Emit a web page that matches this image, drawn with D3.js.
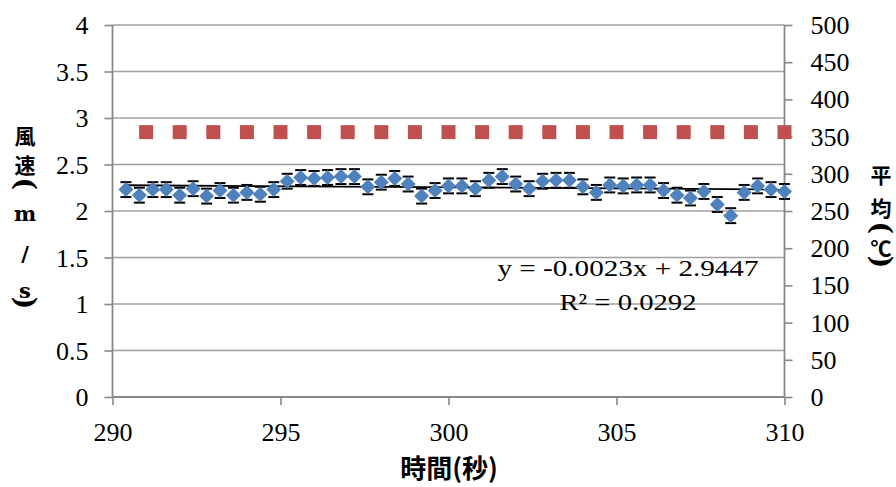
<!DOCTYPE html>
<html><head><meta charset="utf-8">
<script src="https://cdn.jsdelivr.net/npm/d3@7"></script>
<style>
html,body{margin:0;padding:0;background:#fff;}
svg{display:block;}
svg .tick text{font-family:'Liberation Serif','Times New Roman',serif !important;font-size:26px !important;}
</style></head>
<body>
<script>
// ---- data ----
const times = [290.4,290.8,291.2,291.6,292.0,292.4,292.8,293.2,293.6,294.0,294.4,294.8,295.2,295.6,296.0,296.4,296.8,297.2,297.6,298.0,298.4,298.8,299.2,299.6,300.0,300.4,300.8,301.2,301.6,302.0,302.4,302.8,303.2,303.6,304.0,304.4,304.8,305.2,305.6,306.0,306.4,306.8,307.2,307.6,308.0,308.4,308.8,309.2,309.6,310.0];
const windSpeed = [2.23,2.17,2.23,2.23,2.17,2.24,2.16,2.22,2.17,2.20,2.18,2.23,2.32,2.36,2.35,2.36,2.37,2.37,2.26,2.31,2.35,2.29,2.16,2.22,2.27,2.27,2.24,2.33,2.37,2.29,2.24,2.32,2.33,2.33,2.26,2.20,2.28,2.27,2.28,2.28,2.22,2.17,2.14,2.21,2.07,1.95,2.20,2.27,2.23,2.21];
const windErr = [0.08,0.08,0.08,0.08,0.08,0.08,0.08,0.08,0.08,0.08,0.08,0.08,0.08,0.08,0.08,0.08,0.08,0.08,0.08,0.08,0.08,0.08,0.08,0.08,0.08,0.08,0.08,0.08,0.08,0.08,0.08,0.08,0.08,0.08,0.08,0.08,0.08,0.08,0.08,0.08,0.08,0.08,0.08,0.08,0.08,0.08,0.08,0.08,0.08,0.08];
const tempTimes = [291,292,293,294,295,296,297,298,299,300,301,302,303,304,305,306,307,308,309,310];
const tempValues = [356,356,356,356,356,356,356,356,356,356,356,356,356,356,356,356,356,356,356,356];
const xTicks = [290,295,300,305,310];
const yLeftTicks = [0,0.5,1,1.5,2,2.5,3,3.5,4];
const yRightTicks = [0,50,100,150,200,250,300,350,400,450,500];
const trendSlope = -0.0023, trendIntercept = 2.9447;
const trendText = ["y = -0.0023x + 2.9447", "R² = 0.0292"];
const xTitle = "時間(秒)";
const yLeftTitle = ["風","速","(","m","/","s",")"];
const yRightTitle = ["平","均","(","℃",")"];

// ---- layout ----
const W = 896, H = 487;
const svg = d3.select("body").append("svg").attr("width", W).attr("height", H);
const x = d3.scaleLinear().domain([290,310]).range([112.5,784.5]);
const y = d3.scaleLinear().domain([0,4]).range([397,25]);
const y2 = d3.scaleLinear().domain([0,500]).range([397,25]);
const numFont = "'Liberation Serif', 'Times New Roman', serif";
const cjkFont = "'Noto Sans CJK JP', sans-serif";
const gridColor = "#a0a0a0", axisColor = "#888";

// gridlines
svg.append("g").selectAll("line").data(yLeftTicks.filter(d=>d>0)).join("line")
  .attr("x1", x(290)).attr("x2", x(310))
  .attr("y1", d=>y(d)).attr("y2", d=>y(d))
  .attr("stroke", gridColor).attr("stroke-width", 1.6);

// axes
function styleAxis(g){
  g.attr("font-family", numFont).attr("font-size", 26);
  g.select(".domain").remove();
  g.selectAll(".tick line").attr("stroke", axisColor).attr("stroke-width", 1.6);
  g.selectAll(".tick text").attr("fill", "#000");
}
const gL = svg.append("g").attr("transform", `translate(${x(290)},0)`)
  .call(d3.axisLeft(y).tickValues(yLeftTicks).tickSize(8).tickPadding(16).tickFormat(d=>String(d)));
styleAxis(gL); gL.selectAll(".tick text").attr("dy","0.33em");
const gR = svg.append("g").attr("transform", `translate(${x(310)},0)`)
  .call(d3.axisRight(y2).tickValues(yRightTicks).tickSize(8).tickPadding(18).tickFormat(d=>String(d)));
styleAxis(gR); gR.selectAll(".tick text").attr("dy","0.33em");
const gB = svg.append("g").attr("transform", `translate(0,${y(0)})`)
  .call(d3.axisBottom(x).tickValues(xTicks).tickSize(8).tickPadding(18).tickFormat(d=>String(d)));
styleAxis(gB);

// axis lines
svg.append("line").attr("x1", x(290)).attr("x2", x(310)).attr("y1", y(0)).attr("y2", y(0)).attr("stroke", axisColor).attr("stroke-width", 1.8);
svg.append("line").attr("x1", x(290)).attr("x2", x(290)).attr("y1", y(0)).attr("y2", y(4)).attr("stroke", axisColor).attr("stroke-width", 1.8);
svg.append("line").attr("x1", x(310)).attr("x2", x(310)).attr("y1", y(0)).attr("y2", y(4)).attr("stroke", axisColor).attr("stroke-width", 1.8);

// red squares (secondary axis)
const sq = 7;
svg.append("g").selectAll("rect").data(tempTimes.map((t,i)=>[t,tempValues[i]])).join("rect")
  .attr("x", d=>x(d[0])-sq).attr("y", d=>y2(d[1])-sq)
  .attr("width", sq*2).attr("height", sq*2).attr("fill", "#C0504D");

// error bars
const wind = times.map((t,i)=>({t, v: windSpeed[i], e: windErr[i]}));
const eb = svg.append("g").attr("stroke", "#000");
eb.selectAll("line.v").data(wind).join("line").attr("class","v")
  .attr("x1", d=>x(d.t)).attr("x2", d=>x(d.t))
  .attr("y1", d=>y(d.v+d.e)).attr("y2", d=>y(d.v-d.e)).attr("stroke-width", 1.3);
eb.selectAll("line.t").data(wind).join("line").attr("class","t")
  .attr("x1", d=>x(d.t)-5.5).attr("x2", d=>x(d.t)+5.5)
  .attr("y1", d=>y(d.v+d.e)).attr("y2", d=>y(d.v+d.e)).attr("stroke-width", 2);
eb.selectAll("line.b").data(wind).join("line").attr("class","b")
  .attr("x1", d=>x(d.t)-5.5).attr("x2", d=>x(d.t)+5.5)
  .attr("y1", d=>y(d.v-d.e)).attr("y2", d=>y(d.v-d.e)).attr("stroke-width", 2);

// trendline
const tx0 = times[0], tx1 = times[times.length-1];
svg.append("path")
  .datum([tx0, tx1].map(t=>[t, trendSlope*t + trendIntercept]))
  .attr("d", d3.line().x(d=>x(d[0])).y(d=>y(d[1])))
  .attr("stroke", "#000").attr("stroke-width", 1.8).attr("fill", "none");

// diamonds
const dm = 7.5;
svg.append("g").selectAll("path").data(wind).join("path")
  .attr("d", d=>`M${x(d.t)},${y(d.v)-dm}L${x(d.t)+dm},${y(d.v)}L${x(d.t)},${y(d.v)+dm}L${x(d.t)-dm},${y(d.v)}Z`)
  .attr("fill", "#4F81BD");

// trend equation
const eqLen = [261, 137];
svg.append("g").selectAll("text").data(trendText).join("text")
  .attr("x", (d,i)=>628 - eqLen[i]/2).attr("y", (d,i)=>276 + i*34)
  .attr("textLength", (d,i)=>eqLen[i]).attr("lengthAdjust", "spacingAndGlyphs")
  .attr("font-family", numFont).attr("font-size", 23)
  .text(d=>d);

// x title
svg.append("text").attr("x", 449).attr("y", 478).attr("text-anchor","middle")
  .attr("font-family", cjkFont).attr("font-weight","bold").attr("font-size", 26)
  .text(xTitle);

// vertical stacked titles (each character placed; parentheses turned sideways)
function stackTitle(chars, cx, ys){
  const g = svg.append("g");
  g.selectAll("text").data(chars).join("text")
    .attr("transform", (d,i)=> (d==="("||d===")") ? `translate(${cx},${ys[i]}) rotate(90)` : `translate(${cx},${ys[i]})`)
    .attr("text-anchor","middle").attr("dominant-baseline","central")
    .attr("font-weight","bold")
    .attr("font-size", d=> (d==="("||d===")") ? 27 : 21)
    .attr("font-family", d=>/[a-z\/()]/.test(d) ? "'DejaVu Serif', serif" : cjkFont)
    .text(d=>d);
}
stackTitle(yLeftTitle, 25, [134.5,164,184,213.5,253,290,303]);
stackTitle(yRightTitle, 881, [173.5,207,228,246.5,262]);
</script>
</body></html>
